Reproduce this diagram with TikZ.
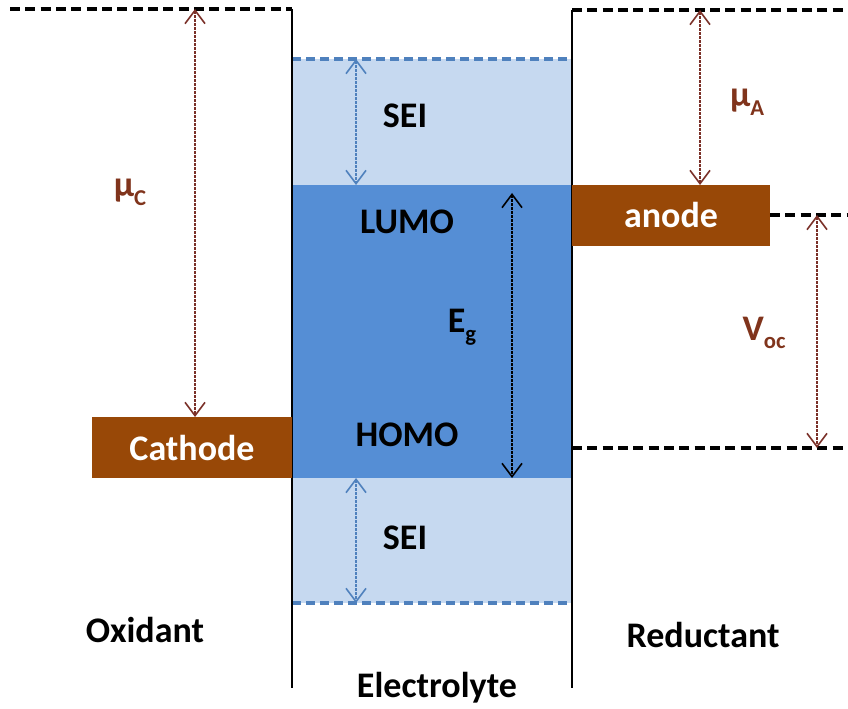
\documentclass[tikz,border=0pt]{standalone}
\usepackage{fontspec}
\setmainfont{Carlito}
\usetikzlibrary{arrows.meta}
\definecolor{seiblue}{RGB}{198,217,240}
\definecolor{bandblue}{RGB}{85,142,213}
\definecolor{dashblue}{RGB}{79,129,189}
\definecolor{electrode}{RGB}{152,72,7}
\definecolor{mured}{RGB}{122,48,40}
\definecolor{labred}{RGB}{128,52,28}
\newcommand{\lowsub}[1]{\raisebox{-0.5ex}{\fontsize{17}{20}\selectfont #1}}

\begin{document}
\begin{tikzpicture}[x=0.75pt,y=0.75pt,yscale=-1,xscale=1,
  font=\fontsize{27}{32}\selectfont\bfseries,
  level/.style={line width=2.4pt, dash pattern=on 7.5pt off 4pt},
  wall/.style={line width=1pt},
  gap/.style={line width=1.2pt, dash pattern=on 2pt off 1pt, {Straight Barb[length=10pt,width=15pt]}-{Straight Barb[length=10pt,width=15pt]}},
  electrode/.style={fill=electrode, text=white, inner sep=0pt}]
\useasboundingbox (0,0) rectangle (848,709);

%Shape: Rectangle (upper SEI)
\fill [seiblue] (292,59) rectangle (572,185);
%Shape: Rectangle (band)
\fill [bandblue] (292,185) rectangle (572,478);
%Shape: Rectangle (lower SEI)
\fill [seiblue] (292,478) rectangle (572,603);
%Straight Lines (SEI edges)
\draw [dashblue, line width=2.5pt, dash pattern=on 6.5pt off 4pt] (292,59) -- (572,59);
\draw [dashblue, line width=2.5pt, dash pattern=on 6.5pt off 4pt] (292,603) -- (572,603);

%Straight Lines (walls)
\draw [wall] (292,9) -- (292,688);
\draw [wall] (572,10) -- (572,688);

%Straight Lines (levels)
\draw [level] (10,9) -- (292,9);
\draw [level] (572,10) -- (848,10);
\draw [level] (770,215) -- (848,215);
\draw [level] (572,448) -- (848,448);

% Electrodes
\node (cathode) [electrode, minimum width=150pt, minimum height=45.75pt] at (192,447.5) {Cathode};
\node (anode) [electrode, minimum width=148.5pt, minimum height=45.75pt] at (671,215.5) {anode};

% Arrow end points
\coordinate (muCtop) at (195,9);
\coordinate (muCbot) at (195,417);
\coordinate (muAtop) at (700,10);
\coordinate (muAbot) at (700,185);
\coordinate (voctop) at (817,215);
\coordinate (vocbot) at (817,448);
\coordinate (seiAtop) at (356,59);
\coordinate (seiAbot) at (356,185);
\coordinate (seiBtop) at (356,478);
\coordinate (seiBbot) at (356,603);
\coordinate (egtop) at (512,193);
\coordinate (egbot) at (512,478);

%Straight Lines (gaps)
\draw [gap, mured] (muCtop) -- (muCbot);
\draw [gap, mured] (muAtop) -- (muAbot);
\draw [gap, mured] (voctop) -- (vocbot);
\draw [gap, dashblue] (seiAtop) -- (seiAbot);
\draw [gap, dashblue] (seiBtop) -- (seiBbot);
\draw [gap, black] (egtop) -- (egbot);

% Text Node
\node (muC) [text=labred] at (130,192) {μ\lowsub{C}};
% Text Node
\node (muA) [text=labred] at (747,102) {μ\lowsub{A}};
% Text Node
\node (voc) [text=labred] at (764,333) {V\lowsub{oc}};
% Text Node
\node (seiA) at (405,116) {SEI};
% Text Node
\node (seiB) at (405,538) {SEI};
% Text Node
\node (lumo) at (407,222) {LUMO};
% Text Node
\node (homo) at (407,435) {HOMO};
% Text Node
\node (eg) at (462,327) {E\lowsub{g}};
% Text Node
\node (oxidant) at (145,630) {Oxidant};
% Text Node
\node (electrolyte) at (437,688) {Electrolyte};
% Text Node
\node (reductant) at (703,635) {Reductant};

\end{tikzpicture}
\end{document}
